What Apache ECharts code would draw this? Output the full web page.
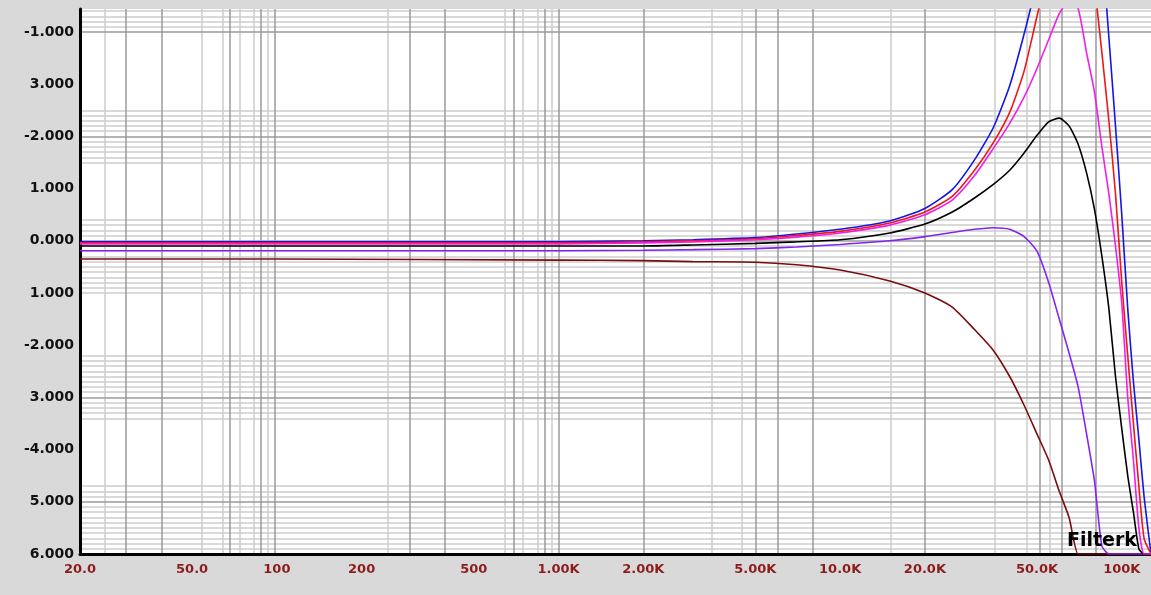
<!DOCTYPE html>
<html>
<head>
<meta charset="utf-8">
<script src="https://cdn.jsdelivr.net/npm/echarts@6.0.0/dist/echarts.min.js"></script>
<style>
  html, body { margin: 0; padding: 0; background: #d9d9d9; }
  #chart { width: 1151px; height: 595px; }
</style>
</head>
<body>
<div id="chart"></div>
<script>
// frequency points (Hz) shared by every curve
const freqs = [20, 100, 1000, 2000, 3000, 5000, 7000, 10000, 15000, 20000, 25000, 30000,
  35000, 40000, 45000, 50000, 55000, 60000, 65000, 70000, 75000, 80000, 85000, 90000,
  95000, 100000, 105000, 110000, 115000, 120000, 127000];

// response of each curve
const maroonDb = [-0.35, -0.35, -0.37, -0.38, -0.4, -0.41, -0.46, -0.56, -0.77, -1.0, -1.27, -1.7,
  -2.1, -2.6, -3.15, -3.7, -4.2, -4.8, -5.3, -6, -6, -6, -6, -6, -6, -6, -6, -6, -6, -6, -6];
const purpleDb = [-0.19, -0.19, -0.19, -0.18, -0.17, -0.15, -0.12, -0.07, 0.0, 0.08, 0.16, 0.22,
  0.25, 0.22, 0.08, -0.2, -0.8, -1.5, -2.15, -2.8, -3.7, -4.6, -5.85, -6, -6, -6, -6, -6, -6, -6, -6];
const blackDb = [-0.1, -0.1, -0.1, -0.1, -0.08, -0.05, -0.02, 0.02, 0.15, 0.32, 0.55, 0.82,
  1.08, 1.35, 1.68, 2.02, 2.28, 2.35, 2.2, 1.85, 1.3, 0.6, -0.3, -1.3, -2.6, -3.6, -4.5, -5.2, -5.9, -6, -6];
const blueDb = [-0.02, -0.02, -0.02, 0.0, 0.02, 0.06, 0.13, 0.22, 0.38, 0.62, 0.98, 1.55,
  2.17, 2.97, 3.96, 4.97, 6.0, 6.9, 7.5, 7.7, 7.4, 6.7, 5.6, 3.9, 2.2, 0.5, -1.3, -2.7, -3.8, -4.9, -6];
const redDb = [-0.04, -0.04, -0.04, -0.02, 0.0, 0.04, 0.1, 0.18, 0.34, 0.55, 0.85, 1.35,
  1.88, 2.46, 3.25, 4.3, 5.2, 5.8, 6.3, 6.4, 6.0, 4.9, 3.6, 2.3, 0.9, -0.8, -2.2, -3.5, -4.7, -5.7, -6];
const magentaDb = [-0.06, -0.06, -0.06, -0.04, -0.02, 0.02, 0.07, 0.15, 0.3, 0.5, 0.78, 1.25,
  1.77, 2.25, 2.75, 3.3, 3.85, 4.35, 4.6, 4.45, 3.6, 2.85, 1.8, 0.9, -0.1, -1.2, -3.0, -4.2, -5.5, -6, -6];

// axis labels
const xTickValues = [20, 50, 100, 200, 500, 1000, 2000, 5000, 10000, 20000, 50000, 100000];
const xTickLabels = ['20.0', '50.0', '100', '200', '500', '1.00K', '2.00K', '5.00K', '10.0K', '20.0K', '50.0K', '100K'];
const yTickValues = [-6, -5, -4, -3, -2, -1, 0, 1, 2, 3, 4];
const yTickLabels = ['6.000', '5.000', '-4.000', '3.000', '-2.000', '1.000', '0.000', '1.000', '-2.000', '3.000', '-1.000'];

// grid lines of the original plot
const vGridDark = [29, 39, 68, 88, 98, 296, 395, 695, 897, 1000, 2000, 5000, 6000, 8000, 20000, 51000, 61000, 81000];
const vGridLight = [24.4, 54, 64, 74, 83, 93, 248, 646, 745, 844, 947, 3510, 4490, 15150, 35300, 45800, 55500];
const hGridDark = [4, 2, 0, -3, -5];
const hGridBands = [[4.0, 4.4], [1.5, 2.5], [-1.0, 0.4], [-3.4, -2.2], [-5.9, -4.7]];

const hGridLight = [];
hGridBands.forEach(([lo, hi]) => {
  for (let v = Math.round(lo * 10); v <= Math.round(hi * 10); v++) {
    if (!hGridDark.includes(v / 10)) hGridLight.push(v / 10);
  }
});

const findLabel = (values, labels, v) => {
  const i = values.findIndex((t) => Math.abs(v - t) <= Math.abs(t) * 1e-6 + 1e-9);
  return i < 0 ? '' : labels[i];
};

const chart = echarts.init(document.getElementById('chart'));

const light = { color: '#cdcdcd', width: 1.5, type: 'solid' };
const dark = { color: '#9a9a9a', width: 1.5, type: 'solid' };

const curve = (name, color, values) => ({
  name,
  type: 'line',
  z: 3,
  data: freqs.map((f, i) => [f, values[i]]),
  showSymbol: false,
  smooth: 0.2,
  lineStyle: { color, width: 1.6 },
  itemStyle: { color },
  clip: true,
});

const options = {
  backgroundColor: '#d9d9d9',
  animation: false,
  title: {
    text: 'Filterk',
    left: 1062,
    top: 527,
    textStyle: { fontFamily: 'DejaVu Sans', fontWeight: 'bold', fontSize: 19, color: '#000' },
  },
  grid: {
    left: 80,
    right: 0,
    top: 9,
    bottom: 41,
    show: true,
    backgroundColor: '#ffffff',
    borderWidth: 0,
  },
  xAxis: {
    type: 'log',
    min: 20,
    max: 127000,
    z: 2,
    axisLine: { onZero: false, lineStyle: { color: '#000', width: 3 } },
    axisTick: { show: false },
    splitLine: { show: false },
    axisLabel: {
      customValues: xTickValues,
      formatter: (v) => findLabel(xTickValues, xTickLabels, v),
      color: '#8c1c1c',
      fontFamily: 'DejaVu Sans',
      fontWeight: 'bold',
      fontSize: 13,
      margin: 9,
    },
  },
  yAxis: {
    type: 'value',
    min: -6,
    max: 4.44,
    z: 2,
    axisLine: { show: true, onZero: false, lineStyle: { color: '#000', width: 3 } },
    axisTick: { show: false },
    splitLine: { show: false },
    axisLabel: {
      customValues: yTickValues,
      formatter: (v) => findLabel(yTickValues, yTickLabels, v),
      color: '#111',
      fontFamily: 'DejaVu Sans',
      fontWeight: 'bold',
      fontSize: 14,
      margin: 6,
    },
  },
  series: [
    {
      type: 'line',
      data: [],
      z: 1,
      silent: true,
      markLine: {
        z: 1,
        silent: true,
        animation: false,
        symbol: ['none', 'none'],
        label: { show: false },
        emphasis: { disabled: true },
        data: [
          ...hGridLight.map((v) => ({ yAxis: v, lineStyle: light })),
          ...vGridLight.map((f) => ({ xAxis: f, lineStyle: light })),
          ...hGridDark.map((v) => ({ yAxis: v, lineStyle: dark })),
          ...vGridDark.map((f) => ({ xAxis: f, lineStyle: dark })),
        ],
      },
    },
    curve('maroon', '#7a0c0c', maroonDb),
    curve('purple', '#8424f0', purpleDb),
    curve('black', '#000000', blackDb),
    curve('blue', '#1414e6', blueDb),
    curve('red', '#ee1616', redDb),
    curve('magenta', '#f01ee6', magentaDb),
  ],
};

chart.setOption(options);
</script>
</body>
</html>
